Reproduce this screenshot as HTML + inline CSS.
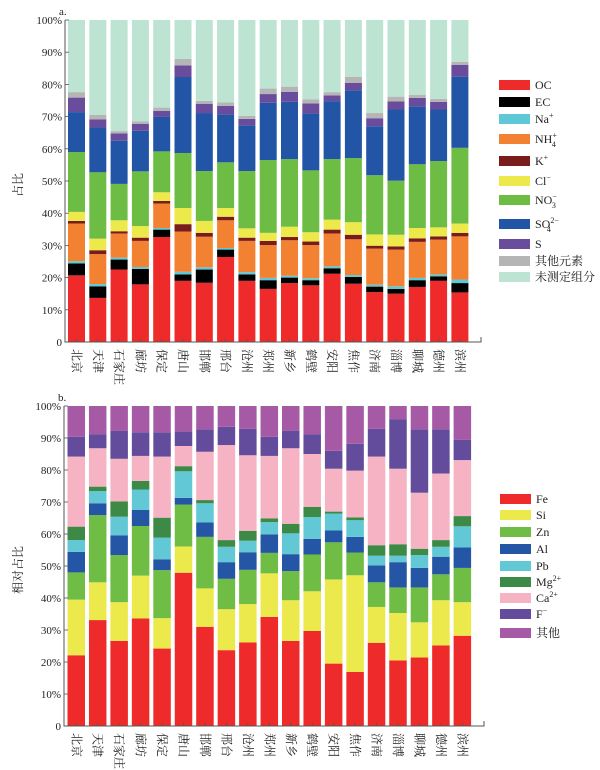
<!DOCTYPE html>
<html><head><meta charset="utf-8">
<style>
body{margin:0;background:#fff;}
svg{display:block;font-family:"Liberation Serif","Noto Serif CJK SC","Noto Sans CJK SC",serif;}
</style></head>
<body>
<svg id="chart" width="600" height="770" viewBox="0 0 600 770" xmlns="http://www.w3.org/2000/svg"></svg>
<script>
const cities = ["北京","天津","石家庄","廊坊","保定","唐山","邯郸","邢台","沧州","郑州","新乡","鹤壁","安阳","焦作","济南","淄博","聊城","德州","滨州"];
const yTicks = ["0","10%","20%","30%","40%","50%","60%","70%","80%","90%","100%"];
// chart a series (percent share per city)
const aOC   = [20.7,13.7,22.5,17.9,32.6,19.0,18.4,26.4,19.0,16.5,18.3,17.6,21.2,18.1,15.5,15.0,17.1,19.0,15.4];
const aEC   = [3.7,3.6,3.1,4.8,2.3,2.0,4.1,2.3,2.0,2.7,1.7,1.6,1.7,2.1,1.7,1.5,2.1,1.4,2.9];
const aNa   = [0.7,0.7,0.6,0.6,0.5,0.8,0.7,0.5,0.7,0.7,0.6,0.6,0.6,0.6,0.6,0.8,0.7,0.6,1.1];
const aNH4  = [11.7,9.3,7.5,8.1,7.6,12.5,9.5,8.6,9.7,10.2,11.0,10.3,10.2,11.1,11.2,11.4,11.2,10.8,13.4];
const aK    = [0.8,1.2,0.7,1.0,0.8,2.3,1.2,1.1,1.0,1.3,1.0,1.1,1.2,1.4,0.9,1.0,1.1,1.0,1.1];
const aCl   = [2.8,3.6,3.4,3.6,2.7,5.0,3.7,2.7,2.9,2.5,3.2,2.9,3.1,3.9,3.5,3.6,3.2,2.8,2.9];
const aNO3  = [18.6,20.6,11.3,17.0,12.7,17.1,15.5,14.2,17.8,22.6,21.0,19.2,18.8,19.9,18.4,16.8,19.8,20.6,23.5];
const aSO4  = [12.4,13.9,13.4,12.6,10.7,23.6,18.0,14.9,14.2,17.8,17.8,17.7,18.0,21.1,15.2,22.1,17.9,16.0,22.1];
const aS    = [4.5,2.5,2.3,2.1,1.9,3.6,2.9,2.6,2.0,2.7,3.1,3.1,1.8,2.3,2.5,2.5,2.7,2.4,3.7];
const aOther= [1.7,1.4,0.7,0.8,1.0,2.0,0.9,1.1,0.9,1.7,1.6,1.3,1.0,1.8,1.6,1.5,0.9,0.9,0.9];
// chart b series
const bFe = [22.1,33.1,26.6,33.6,24.2,47.9,31.0,23.7,26.1,34.1,26.6,29.7,19.5,16.9,26.0,20.5,21.4,25.2,28.2];
const bSi = [17.4,11.8,12.1,13.4,9.5,8.2,12.0,12.8,12.0,13.6,12.7,12.4,26.3,30.2,11.2,14.8,11.0,14.1,10.5];
const bZn = [8.5,21.0,14.7,15.5,15.0,13.1,16.1,9.5,10.7,6.4,9.1,11.5,11.6,7.1,7.7,8.0,10.9,8.1,10.7];
const bAl = [6.4,3.7,6.2,5.0,3.4,2.1,4.5,5.2,5.5,5.8,5.3,4.9,3.7,4.9,5.3,7.9,6.1,5.5,6.4];
const bPb = [3.7,3.8,5.8,6.4,6.8,8.3,6.0,4.8,3.6,3.8,6.5,6.8,5.3,5.2,3.0,2.0,4.0,3.1,6.6];
const bMg = [4.2,1.4,4.8,2.7,6.2,1.6,1.0,2.1,3.1,1.2,3.0,3.2,0.6,0.9,3.3,3.6,2.0,2.1,3.2];
const bCa = [21.9,12.0,13.3,7.8,19.1,6.3,15.1,29.7,23.6,19.5,23.6,16.5,13.4,14.6,27.7,23.6,17.5,20.8,17.5];
const bF  = [6.2,4.4,8.8,7.4,7.6,4.5,7.0,5.7,8.3,6.0,5.5,6.2,5.6,8.4,8.7,15.5,19.8,13.8,6.3];

const NS="http://www.w3.org/2000/svg";
const svg=document.getElementById('chart');
function mk(tag,attrs,parent){const e=document.createElementNS(NS,tag);for(const k in attrs)e.setAttribute(k,attrs[k]);(parent||svg).appendChild(e);return e;}

function drawChart(cfg){
  const g=mk('g',{});
  
  
  const y=v=>cfg.y0-(v/100)*(cfg.y0-cfg.y100);
  const x=i=>cfg.x0+i*cfg.pitch;
  cities.forEach((c,i)=>{
    let cum=0;
    cfg.series.forEach(s=>{
      const v = s.values ? s.values[i] : Math.max(0,100-cum);
      const r=mk('rect',{x:x(i),y:y(cum+v),width:cfg.bw,height:Math.max(0,y(cum)-y(cum+v)),fill:s.color},g);
      
      
      cum+=v;
    });
    const cx=x(i)+cfg.bw/2, ty=cfg.y0+7;
    const t=mk('text',{x:0,y:0,'font-size':12,'text-anchor':'start',fill:'#222',transform:`translate(${cx-4},${ty}) rotate(90)`},g);
    
    
    t.textContent=c;
    mk('line',{x1:cx,x2:cx,y1:cfg.y0,y2:cfg.y0-3,stroke:'#555','stroke-width':0.8},g);
  });
  const ax=mk('path',{d:`M${cfg.ax} ${cfg.y100} V${cfg.y0} H${cfg.axEnd} V${cfg.y0-5}`,fill:'none',stroke:'#555','stroke-width':1},g);
  
  
  yTicks.forEach((lab,k)=>{
    const yy=y(k*10);
    mk('line',{x1:cfg.ax,x2:cfg.ax+4,y1:yy,y2:yy,stroke:'#555','stroke-width':0.8},g);
    const t=mk('text',{x:cfg.ax-3,y:yy+4,'font-size':11,'text-anchor':'end',fill:'#222'},g);
    
    
    t.textContent=lab;
  });
  const yt=mk('text',{x:0,y:0,'font-size':12,'text-anchor':'middle',fill:'#222',transform:`translate(${cfg.ytx},${cfg.yty}) rotate(-90)`},g);
  
  
  yt.textContent=cfg.ytitle;
  const pl=mk('text',{x:cfg.ax-6,y:cfg.y100-5,'font-size':11,fill:'#222'},g);
  
  
  pl.textContent=cfg.panel;
  cfg.legend.forEach((L,k)=>{
    const lg=mk('g',{},g);
    
    
    mk('rect',{x:cfg.lx,y:L.y-5,width:31,height:10,fill:cfg.series[k].color},lg);
    const t=mk('text',{x:cfg.lx+36,y:L.y+4,'font-size':12,fill:'#222'},lg);
    t.innerHTML=L.html;
  });
}

drawChart({name:'chart-a',x0:68,pitch:21.3,bw:17,y0:342,y100:20,ax:65,axEnd:481,ytx:22,yty:185,ytitle:'占比',panel:'a.',lx:499,
  series:[{key:'oc',values:aOC,color:'#ee2a2a'},{key:'ec',values:aEC,color:'#000000'},{key:'na',values:aNa,color:'#5ec8d6'},{key:'nh4',values:aNH4,color:'#f28231'},{key:'k',values:aK,color:'#7a1c1c'},{key:'cl',values:aCl,color:'#ede94a'},{key:'no3',values:aNO3,color:'#6dbd45'},{key:'so4',values:aSO4,color:'#2255a6'},{key:'s',values:aS,color:'#6a4c9c'},{key:'other',values:aOther,color:'#b5b5b5'},{key:'unmeasured',values:null,color:'#bde3d2'}],
  legend:[{y:85,html:'OC'},{y:102,html:'EC'},{y:119,html:'Na<tspan dy="-5" font-size="8">+</tspan>'},{y:139,html:'NH<tspan dy="-5" font-size="8">+</tspan><tspan dx="-5" dy="9" font-size="8">4</tspan>'},{y:161,html:'K<tspan dy="-5" font-size="8">+</tspan>'},{y:181,html:'Cl<tspan dy="-5" font-size="8">−</tspan>'},{y:200,html:'NO<tspan dy="-5" font-size="8">−</tspan><tspan dx="-5" dy="9" font-size="8">3</tspan>'},{y:224,html:'SO<tspan dy="-5" font-size="8">2−</tspan><tspan dx="-12" dy="9" font-size="8">4</tspan>'},{y:244,html:'S'},{y:261,html:'其他元素'},{y:277,html:'未测定组分'}]
});
drawChart({name:'chart-b',x0:67.5,pitch:21.45,bw:17.5,y0:726,y100:406,ax:64,axEnd:484,ytx:22,yty:570,ytitle:'相对占比',panel:'b.',lx:500,
  series:[{key:'fe',values:bFe,color:'#ee2a2a'},{key:'si',values:bSi,color:'#ece94c'},{key:'zn',values:bZn,color:'#70bd45'},{key:'al',values:bAl,color:'#2456a5'},{key:'pb',values:bPb,color:'#62c8d6'},{key:'mg',values:bMg,color:'#3c8a45'},{key:'ca',values:bCa,color:'#f6b3c3'},{key:'f',values:bF,color:'#644c9c'},{key:'other',values:null,color:'#a65aa6'}],
  legend:[{y:499,html:'Fe'},{y:515,html:'Si'},{y:532,html:'Zn'},{y:549,html:'Al'},{y:566,html:'Pb'},{y:582,html:'Mg<tspan dy="-5" font-size="8">2+</tspan>'},{y:598,html:'Ca<tspan dy="-5" font-size="8">2+</tspan>'},{y:614,html:'F<tspan dy="-5" font-size="8">−</tspan>'},{y:633,html:'其他'}]
});
</script>
</body></html>
